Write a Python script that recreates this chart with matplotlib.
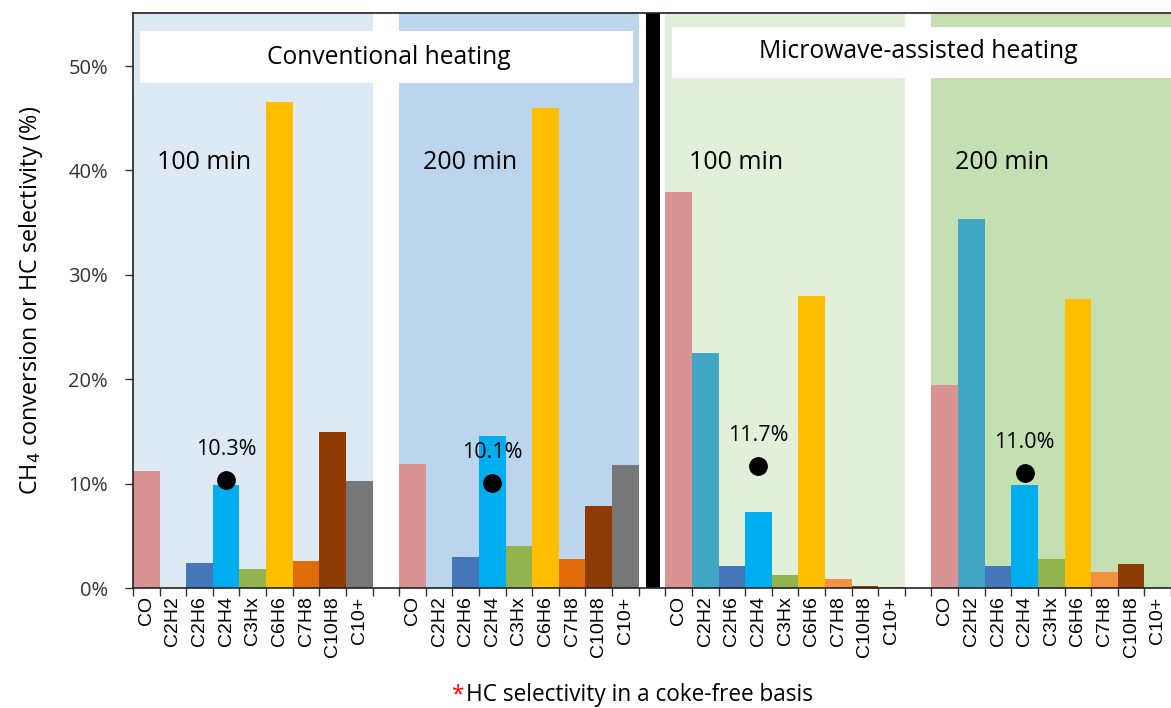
import numpy as np
import matplotlib
matplotlib.use('Agg')
import matplotlib.pyplot as plt
from matplotlib.patches import Rectangle

species = ['CO', 'C2H2', 'C2H6', 'C2H4', 'C3Hx', 'C6H6', 'C7H8', 'C10H8', 'C10+']
periods = ['100 min', '200 min', '100 min', '200 min']

# HC selectivity (%) per run, coke-free basis
conv_100 = [11.2, 0.0, 2.4, 9.9, 1.85, 46.6, 2.6, 14.9, 10.25]
conv_200 = [11.9, 0.0, 2.95, 14.6, 4.0, 46.0, 2.75, 7.85, 11.8]
mw_100 = [37.9, 22.5, 2.1, 7.3, 1.2, 28.0, 0.85, 0.22, 0.1]
mw_200 = [19.4, 35.3, 2.1, 9.9, 2.75, 27.7, 1.55, 2.3, 0.0]
ch4_conversion = [10.3, 10.1, 11.7, 11.0]

runs = [conv_100, conv_200, mw_100, mw_200]

base_colors = ['#D99392', '#40A6C4', '#4676BA', '#00ADEF', '#93B34F',
               '#FFBE00', '#E26B0A', '#8F3B06', '#777777']
mw_colors = list(base_colors)
mw_colors[6] = '#F4913F'
mw_colors[8] = '#E88030'
run_colors = [base_colors, base_colors, mw_colors, mw_colors]
band_colors = ['#DDEAF6', '#BBD5EC', '#E2EFD9', '#C4E0B2']

slot = 10  # 9 species + 1 empty slot per run
main_font = 'Open Sans'

fig = plt.figure(figsize=(11.71, 7.08), dpi=100)
ax = fig.add_axes([133 / 1171, 1 - 588 / 708, 1 - 133 / 1171, (588 - 13) / 708])
ymax = 55.08
ax.set_xlim(-0.5, 38.09)
ax.set_ylim(0, ymax)

n = len(species)
for g, vals in enumerate(runs):
    x0 = g * slot
    ax.axvspan(x0 - 0.5, x0 + n - 0.5, color=band_colors[g], lw=0, zorder=0)
    xs = x0 + np.arange(n)
    ax.bar(xs, vals, width=1.0, color=run_colors[g], lw=0, zorder=2)
    ax.text(x0 + 0.4, 40.8, periods[g], fontsize=18, family=main_font,
            ha='left', va='center', zorder=4)
    cx = x0 + species.index('C2H4')
    ax.plot(cx, ch4_conversion[g], 'o', color='black', ms=12.5, zorder=5)
    ax.annotate('%.1f%%' % ch4_conversion[g], (cx, ch4_conversion[g]),
                xytext=(0, 22), textcoords='offset points', ha='center',
                va='center', fontsize=15.5, family=main_font, zorder=5)

# separator between conventional and microwave runs
ax.axvspan(2 * slot - 1 - 0.21, 2 * slot - 1 + 0.31, color='black', lw=0, zorder=3)

# heating mode header boxes
ax.add_patch(Rectangle((-0.24, 48.37), 18.51, 4.98, facecolor='white',
                       edgecolor='none', zorder=3))
ax.add_patch(Rectangle((19.75, 48.88), 20, 4.88, facecolor='white',
                       edgecolor='none', zorder=3))
ax.text(9.1, 50.8, 'Conventional heating', fontsize=17.7, family=main_font,
        ha='center', va='center', zorder=4)
ax.text(29.0, 51.35, 'Microwave-assisted heating', fontsize=17.8, family=main_font,
        ha='center', va='center', zorder=4)

# ticks: marks on slot edges, labels on bar centres
ax.set_xticks(np.arange(-0.5, 38.6, 1))
ax.set_xticklabels([])
ax.tick_params(axis='x', which='major', direction='out', length=6, width=1, color='#333333')
label_pos = [g * slot + i for g in range(4) for i in range(n)]
ax.set_xticks(label_pos, minor=True)
ax.set_xticklabels(species * 4, minor=True, rotation=90, fontsize=14,
                   family='Liberation Sans')
ax.tick_params(axis='x', which='minor', length=0, pad=6)

ax.set_yticks(np.arange(0, 51, 10))
ax.set_yticklabels(['%d%%' % v for v in range(0, 51, 10)], fontsize=14.5, family=main_font,
                   color='#333333')
ax.tick_params(axis='y', direction='out', length=6, width=1, color='#333333', pad=12)
ax.set_ylabel('CH$_4$ conversion or HC selectivity (%)', fontsize=16.8, family=main_font,
              labelpad=17)

for side in ['left', 'bottom', 'top']:
    ax.spines[side].set_color('#222222')
    ax.spines[side].set_linewidth(1.2)
    ax.spines[side].set_zorder(6)
ax.spines['right'].set_visible(False)

fig.text(451 / 1171, 1 - 695 / 708, '*', color='red', fontsize=16.3, family=main_font,
         ha='left', va='center')
fig.text(466 / 1171, 1 - 695 / 708, 'HC selectivity in a coke-free basis', fontsize=16.3,
         family=main_font, ha='left', va='center')

fig.savefig('out.png', dpi=100)
